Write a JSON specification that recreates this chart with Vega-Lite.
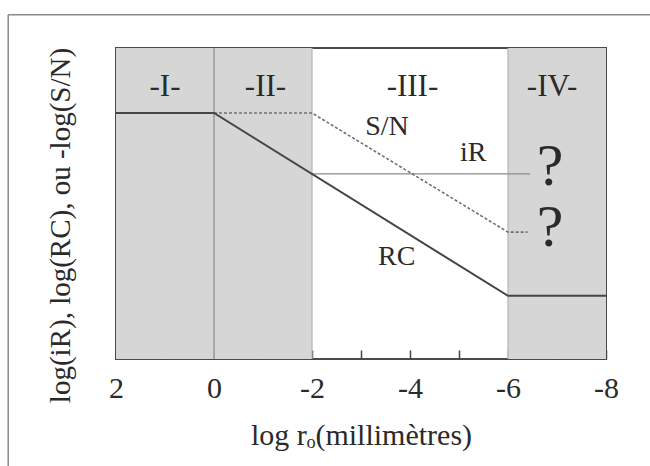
{
  "$schema": "https://vega.github.io/schema/vega-lite/v6.json",
  "width": 490,
  "height": 311,
  "autosize": "none",
  "padding": {"left": 116, "top": 48, "right": 44, "bottom": 107},
  "background": "white",
  "config": {
    "font": "Times New Roman, Liberation Serif, DejaVu Serif, serif",
    "view": {"stroke": "#4a4a4a", "strokeWidth": 2}
  },
  "datasets": {
    "zones": [
      {"zone": "I", "start": 2, "end": 0},
      {"zone": "II", "start": 0, "end": -2},
      {"zone": "IV", "start": -6, "end": -8}
    ],
    "dividers": [
      {"pos": 0, "kind": "main"},
      {"pos": -2, "kind": "faint"},
      {"pos": -6, "kind": "faint"}
    ],
    "curves": [
      {"curve": "RC", "logr": 2, "value": 7.91},
      {"curve": "RC", "logr": 0, "value": 7.91},
      {"curve": "RC", "logr": -6, "value": 2.03},
      {"curve": "RC", "logr": -8, "value": 2.03},
      {"curve": "S/N", "logr": 0, "value": 7.91},
      {"curve": "S/N", "logr": -2, "value": 7.91},
      {"curve": "S/N", "logr": -6, "value": 4.08},
      {"curve": "S/N", "logr": -6.4, "value": 4.08},
      {"curve": "iR", "logr": -2, "value": 5.95},
      {"curve": "iR", "logr": -6.45, "value": 5.95}
    ],
    "labels": [
      {"role": "zone", "text": "-I-", "logr": 1, "value": 8.75},
      {"role": "zone", "text": "-II-", "logr": -1.05, "value": 8.75},
      {"role": "zone", "text": "-III-", "logr": -4.05, "value": 8.75},
      {"role": "zone", "text": "-IV-", "logr": -6.9, "value": 8.75},
      {"role": "curve", "text": "S/N", "logr": -3.53, "value": 7.46},
      {"role": "curve", "text": "iR", "logr": -5.29, "value": 6.62},
      {"role": "curve", "text": "RC", "logr": -3.73, "value": 3.28},
      {"role": "unknown", "text": "?", "logr": -6.86, "value": 6.17},
      {"role": "unknown", "text": "?", "logr": -6.86, "value": 4.21}
    ],
    "frame": [{"left": 4.2, "right": -9.5, "top": 11.07, "bottom": -4}]
  },
  "encoding": {
    "x": {
      "type": "quantitative",
      "scale": {"domain": [2, -8], "nice": false, "zero": false},
      "axis": {
        "title": "log rₒ(millimètres)",
        "values": [2, 1, 0, -1, -2, -3, -4, -5, -6, -7, -8],
        "labelExpr": "datum.value % 2 == 0 ? toString(datum.value) : ''",
        "grid": false,
        "domain": false,
        "tickSize": -9,
        "tickColor": "#444444",
        "tickWidth": 1.5,
        "labelPadding": 23,
        "labelFontSize": 30,
        "labelColor": "#2a2a2a",
        "labelFlush": false,
        "labelOverlap": false,
        "titleFontSize": 30,
        "titleFontWeight": "normal",
        "titleColor": "#2a2a2a",
        "titlePadding": 17
      }
    },
    "y": {
      "type": "quantitative",
      "scale": {"domain": [0, 10], "nice": false, "zero": false},
      "axis": {
        "title": "log(iR), log(RC), ou -log(S/N)",
        "labels": false,
        "ticks": false,
        "grid": false,
        "domain": false,
        "titleFontSize": 29,
        "titleFontWeight": "normal",
        "titleColor": "#2a2a2a",
        "titlePadding": 41,
        "titleY": 177
      }
    }
  },
  "layer": [
    {
      "data": {"name": "zones"},
      "mark": {"type": "rect", "color": "#d6d6d6"},
      "encoding": {
        "x": {"field": "start"},
        "x2": {"field": "end"},
        "y": {"datum": 0},
        "y2": {"datum": 10}
      }
    },
    {
      "data": {"name": "dividers"},
      "mark": {"type": "rule", "strokeWidth": 1.2},
      "encoding": {
        "x": {"field": "pos"},
        "y": {"datum": 0},
        "y2": {"datum": 10},
        "color": {
          "field": "kind",
          "type": "nominal",
          "scale": {"domain": ["main", "faint"], "range": ["#8a8a8a", "#b4b4b4"]},
          "legend": null
        }
      }
    },
    {
      "data": {"name": "curves"},
      "transform": [{"filter": "datum.curve == 'iR'"}],
      "mark": {"type": "line", "color": "#8c8c8c", "strokeWidth": 1.3},
      "encoding": {"x": {"field": "logr"}, "y": {"field": "value"}}
    },
    {
      "data": {"name": "curves"},
      "transform": [{"filter": "datum.curve == 'S/N'"}],
      "mark": {"type": "line", "color": "#707070", "strokeWidth": 1.6, "strokeDash": [3, 2]},
      "encoding": {"x": {"field": "logr"}, "y": {"field": "value"}}
    },
    {
      "data": {"name": "curves"},
      "transform": [{"filter": "datum.curve == 'RC'"}],
      "mark": {"type": "line", "color": "#454545", "strokeWidth": 2},
      "encoding": {"x": {"field": "logr"}, "y": {"field": "value"}}
    },
    {
      "data": {"name": "labels"},
      "transform": [{"filter": "datum.role == 'zone'"}],
      "mark": {"type": "text", "fontSize": 31, "color": "#2a2a2a", "baseline": "middle", "align": "center"},
      "encoding": {"x": {"field": "logr"}, "y": {"field": "value"}, "text": {"field": "text"}}
    },
    {
      "data": {"name": "labels"},
      "transform": [{"filter": "datum.role == 'curve'"}],
      "mark": {"type": "text", "fontSize": 28, "color": "#2a2a2a", "baseline": "middle", "align": "center"},
      "encoding": {"x": {"field": "logr"}, "y": {"field": "value"}, "text": {"field": "text"}}
    },
    {
      "data": {"name": "labels"},
      "transform": [{"filter": "datum.role == 'unknown'"}],
      "mark": {"type": "text", "fontSize": 60, "color": "#2a2a2a", "baseline": "middle", "align": "center"},
      "encoding": {"x": {"field": "logr"}, "y": {"field": "value"}, "text": {"field": "text"}}
    },
    {
      "data": {"name": "frame"},
      "mark": {"type": "rule", "color": "#8a8a8a", "strokeWidth": 1.5},
      "encoding": {
        "x": {"field": "left"},
        "x2": {"field": "right"},
        "y": {"field": "top"}
      }
    },
    {
      "data": {"name": "frame"},
      "mark": {"type": "rule", "color": "#8a8a8a", "strokeWidth": 1.5},
      "encoding": {
        "x": {"field": "left"},
        "y": {"field": "top"},
        "y2": {"field": "bottom"}
      }
    }
  ]
}
